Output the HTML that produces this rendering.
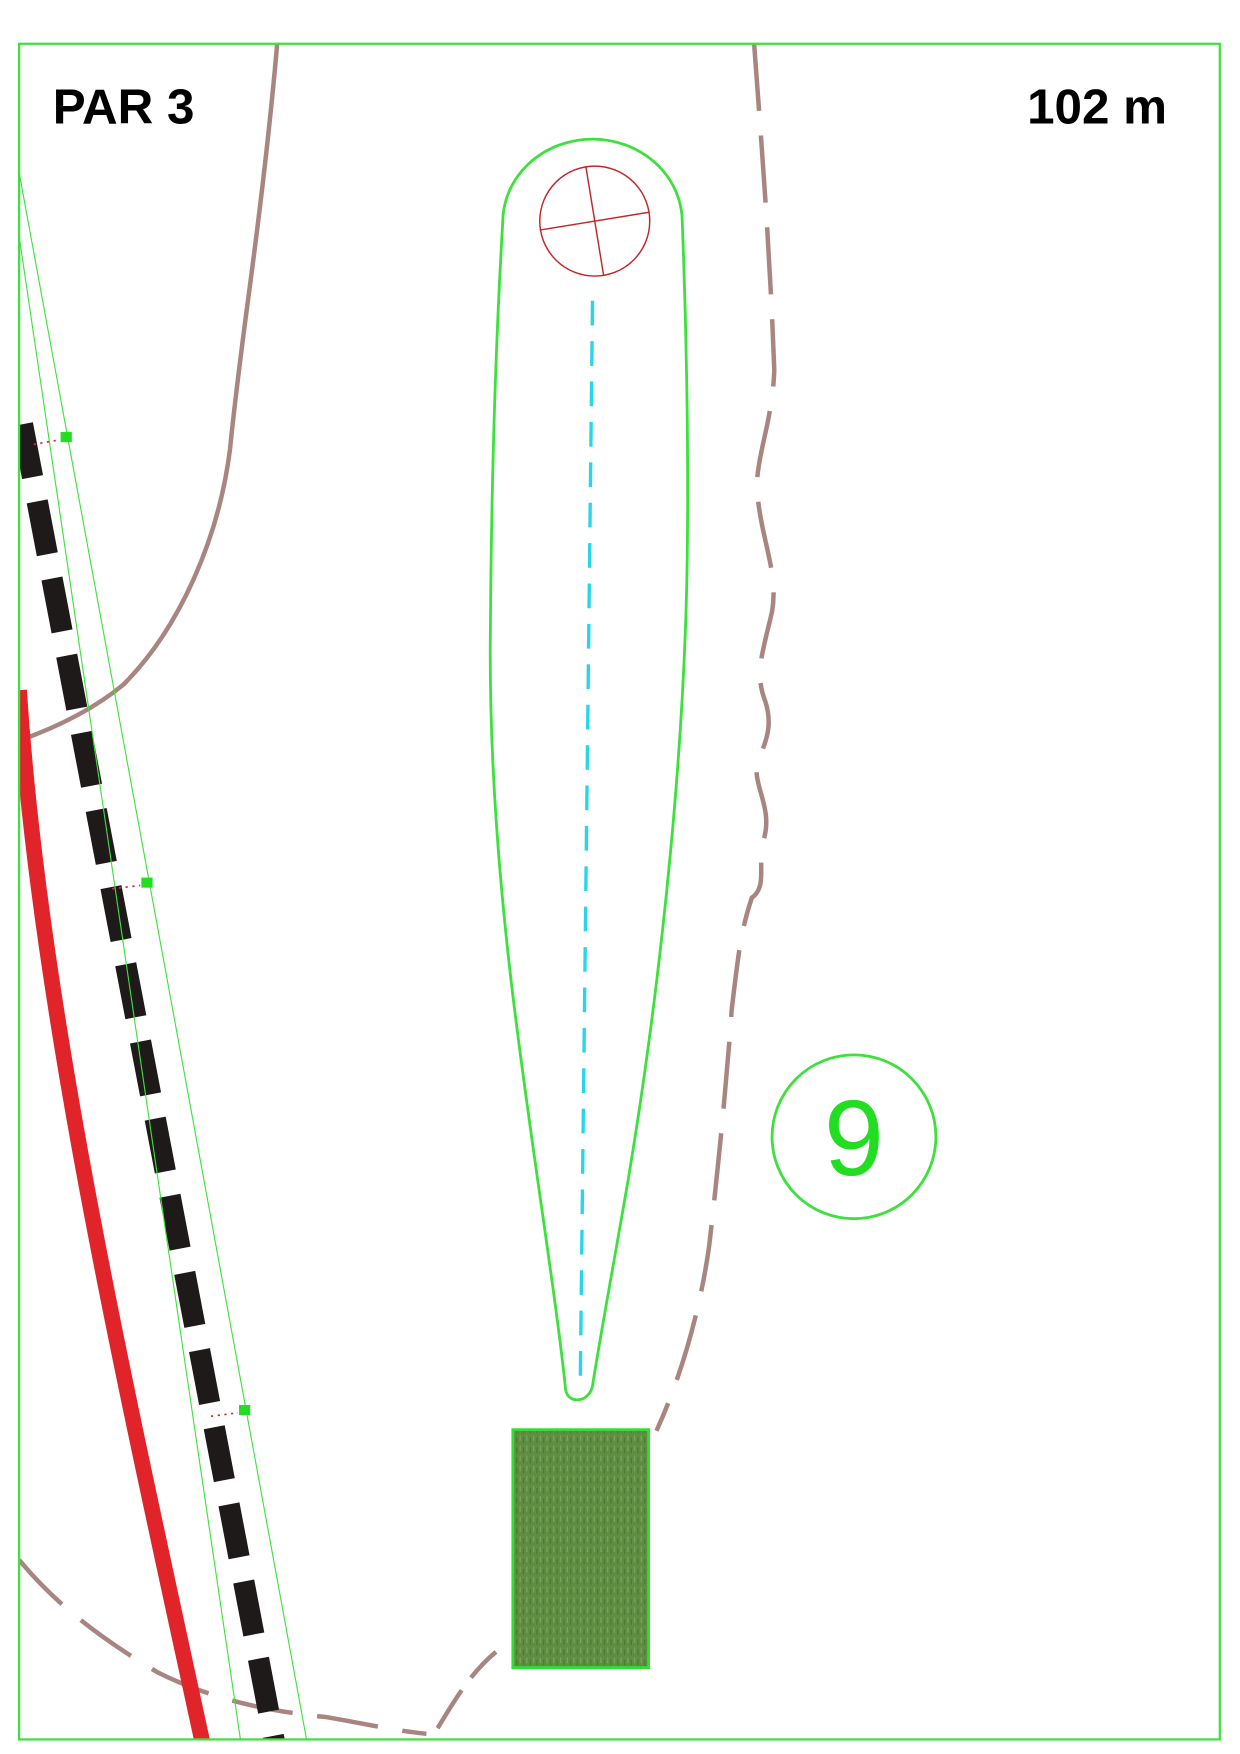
<!DOCTYPE html>
<html><head><meta charset="utf-8"><style>html,body{margin:0;padding:0;background:#fff}svg{display:block}</style></head>
<body>
<svg width="1240" height="1754" viewBox="0 0 1105 1563" preserveAspectRatio="none" xmlns="http://www.w3.org/2000/svg">
<defs>
<clipPath id="c"><rect x="17" y="39" width="1070" height="1511"/></clipPath>
<pattern id="g" width="6" height="9" patternUnits="userSpaceOnUse">
<rect width="6" height="9" fill="#5f8d42"/><rect x="1" y="1" width="1" height="5" fill="#7ea763"/><rect x="4" y="3" width="1" height="5" fill="#4b7633"/>
</pattern>
</defs>
<rect width="1105" height="1563" fill="#fff"/>
<g clip-path="url(#c)">
<path d="M247,39 C240,120 230,200 222,260 C214,320 208,370 205,400 C195,480 160,560 110,610 C80,635 45,650 17,660" fill="none" stroke="#a88580" stroke-width="4"/>
<path d="M672,39 C678,120 686,220 690,330 C688,380 672,410 675,440 C678,480 694,510 688,545 C680,580 672,600 682,625 C690,650 680,665 675,680 C670,700 690,720 680,750 C675,770 684,790 670,800 C660,830 658,850 652,900 C648,960 640,1040 632,1110 C625,1160 610,1220 585,1275" fill="none" stroke="#a88580" stroke-width="4" stroke-dasharray="60 22"/>
<path d="M17,1390 C50,1430 90,1460 140,1490 C190,1515 240,1525 290,1530 C320,1535 350,1542 380,1545" fill="none" stroke="#a88580" stroke-width="4" stroke-dasharray="55 22"/>
<path d="M390,1540 C405,1515 420,1490 442,1472" fill="none" stroke="#a88580" stroke-width="4" stroke-dasharray="40 14"/>
<path d="M17,615 C35,900 115,1250 182,1560" fill="none" stroke="#e0242a" stroke-width="14"/>
<line x1="20" y1="378" x2="246" y2="1560" stroke="#1e1a1a" stroke-width="19" stroke-dasharray="48 22"/>
<line x1="17" y1="210" x2="215" y2="1555" stroke="#3ee03e" stroke-width="1"/>
<line x1="-4" y1="39" x2="275" y2="1560" stroke="#3ee03e" stroke-width="1"/>
<rect x="54" y="385" width="10" height="9" fill="#22dd22"/>
<rect x="126" y="782" width="10" height="9" fill="#22dd22"/>
<rect x="213" y="1252" width="10" height="9" fill="#22dd22"/>
<line x1="30" y1="396" x2="53" y2="392" stroke="#d03030" stroke-width="1.5" stroke-dasharray="2 4"/>
<line x1="100" y1="792" x2="125" y2="789" stroke="#d03030" stroke-width="1.5" stroke-dasharray="2 4"/>
<line x1="188" y1="1262" x2="212" y2="1259" stroke="#d03030" stroke-width="1.5" stroke-dasharray="2 4"/>
</g>
<rect x="17" y="39" width="1070" height="1511" fill="none" stroke="#3ee03e" stroke-width="2"/>
<text x="47" y="110" font-family="Liberation Sans, sans-serif" font-weight="bold" font-size="44" fill="#000">PAR 3</text>
<text x="1040" y="110" text-anchor="end" font-family="Liberation Sans, sans-serif" font-weight="bold" font-size="44" fill="#000">102 m</text>
<path d="M448,198 A80,74 0 0 1 608,198 C612,300 614,420 612,520 C608,700 585,900 560,1050 C548,1120 535,1190 528,1235 C525,1250 506,1252 504,1238 C495,1150 470,1000 455,870 C440,740 436,640 437,560 C438,420 442,300 448,198 Z" fill="none" stroke="#3ee03e" stroke-width="2.5"/>
<circle cx="530" cy="197" r="49" fill="none" stroke="#c0282a" stroke-width="1.3"/>
<line x1="522" y1="148" x2="538" y2="246" stroke="#c0282a" stroke-width="1.3"/>
<line x1="481" y1="205" x2="579" y2="189" stroke="#c0282a" stroke-width="1.3"/>
<line x1="528" y1="268" x2="517" y2="1240" stroke="#28d6ea" stroke-width="3" stroke-dasharray="22 14"/>
<circle cx="761" cy="1013" r="73" fill="none" stroke="#3ee03e" stroke-width="2.5"/>
<text x="761" y="1047" text-anchor="middle" font-family="Liberation Sans, sans-serif" font-size="96" fill="#22dd22">9</text>
<rect x="457" y="1274" width="121" height="212" fill="url(#g)" stroke="#2fe02f" stroke-width="2.5"/>
</svg>
</body></html>
